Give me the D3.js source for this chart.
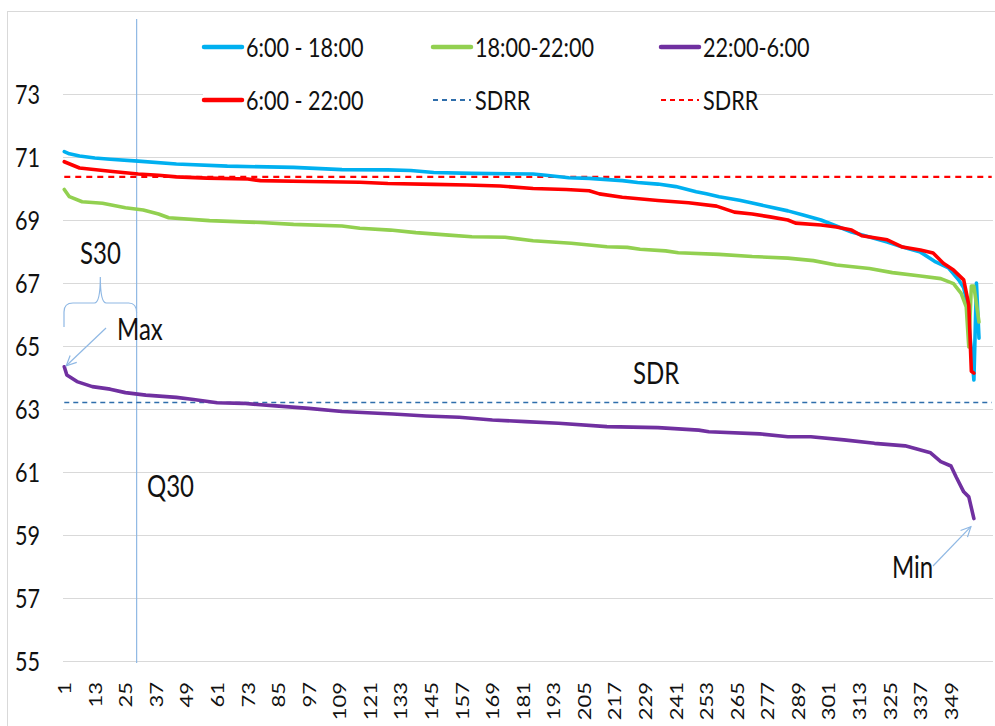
<!DOCTYPE html>
<html>
<head>
<meta charset="utf-8">
<script src="https://cdn.jsdelivr.net/npm/d3@7"></script>
<style>
  html, body { margin: 0; padding: 0; background: #fff; }
  svg { display: block; font-family: Lato, "Liberation Sans", sans-serif; }
</style>
</head>
<body>
<svg id="chart" width="995" height="726"></svg>
<script>
// Sorted daily values (duration curves), [day rank, value]
const dayPeriod = [
  [1,71.17],[3,71.10],[7,71.03],[13,70.97],[19,70.93],[30,70.87],[45,70.78],[65,70.71],
  [91,70.67],[110,70.60],[128,70.59],[137,70.57],[146,70.51],[161,70.48],[185,70.46],
  [190,70.42],[199,70.34],[207,70.32],[220,70.25],[226,70.19],[234,70.14],[241,70.06],
  [249,69.90],[253,69.83],[258,69.74],[266,69.63],[271,69.54],[278,69.41],[285,69.29],
  [291,69.16],[298,69.00],[304,68.81],[310,68.62],[317,68.46],[324,68.30],[330,68.14],
  [337,67.98],[343,67.67],[348,67.48],[352,67.10],[354,66.85],[355,66.50],[357,64.90],
  [358,63.92],[359,67.00],[360,65.25]
];
const eveningPeriod = [
  [1,69.97],[3,69.74],[8,69.58],[16,69.53],[25,69.39],[32,69.32],[38,69.19],[42,69.07],
  [58,68.98],[78,68.92],[91,68.86],[110,68.81],[117,68.74],[129,68.68],[139,68.60],
  [152,68.52],[161,68.47],[174,68.45],[185,68.34],[200,68.26],[214,68.15],[222,68.13],
  [227,68.07],[237,68.02],[242,67.96],[258,67.91],[271,67.84],[285,67.79],[295,67.71],
  [304,67.57],[317,67.46],[326,67.33],[337,67.22],[345,67.14],[350,66.98],[353,66.67],
  [355,66.24],[356,64.97],[357,66.90],[358,66.90],[360,65.76]
];
const nightPeriod = [
  [1,64.34],[2,64.08],[6,63.87],[12,63.71],[19,63.63],[25,63.52],[33,63.44],[45,63.37],
  [51,63.31],[61,63.20],[71,63.18],[84,63.10],[97,63.02],[110,62.92],[130,62.84],
  [143,62.78],[156,62.74],[169,62.65],[182,62.60],[195,62.55],[214,62.44],[234,62.41],
  [250,62.33],[254,62.28],[274,62.21],[285,62.12],[294,62.12],[307,62.02],[319,61.91],
  [331,61.83],[341,61.61],[345,61.33],[349,61.19],[351,60.85],[354,60.37],[356,60.21],
  [358,59.52]
];
const dayEveningPeriod = [
  [1,70.85],[7,70.65],[19,70.55],[30,70.46],[38,70.42],[45,70.37],[57,70.33],[73,70.30],
  [78,70.25],[97,70.22],[117,70.20],[128,70.16],[146,70.13],[159,70.11],[172,70.08],
  [185,70.00],[198,69.97],[207,69.93],[211,69.83],[220,69.72],[234,69.62],[246,69.55],
  [257,69.44],[264,69.25],[271,69.19],[278,69.10],[285,69.00],[288,68.90],[298,68.84],
  [304,68.78],[310,68.68],[314,68.50],[324,68.37],[330,68.14],[337,68.05],[342,67.95],
  [346,67.63],[350,67.41],[354,67.10],[355,66.70],[356,66.30],[357,64.20],[358,64.14]
];
// Reference levels
const sdrrNight = 63.21;
const sdrrDay = 70.37;
const dayCount = 365;
const q30Day = 29.4;

const seriesNames = ["6:00 - 18:00", "18:00-22:00", "22:00-6:00", "6:00 - 22:00", "SDRR", "SDRR"];
const xTicks = [1,13,25,37,49,61,73,85,97,109,121,133,145,157,169,181,193,205,217,229,241,253,265,277,289,301,313,325,337,349];
const yTicks = [55,57,59,61,63,65,67,69,71,73];

const svg = d3.select("#chart");
const plot = { left: 63, right: 993, top: 31, bottom: 661 };
const kx = 0.8; // horizontal squeeze applied to all text

const x = d3.scaleLinear().domain([0.5, dayCount + 0.5]).range([plot.left, plot.right]);
const y = d3.scaleLinear().domain([55, 75]).range([plot.bottom, plot.top]);

// outer frame
svg.append("rect").attr("x", 7.5).attr("y", 11.5).attr("width", 1000).attr("height", 1000)
  .attr("fill", "none").attr("stroke", "#d9d9d9");

// horizontal gridlines
const grid = svg.append("g")
  .attr("transform", `translate(${plot.left},0)`)
  .call(d3.axisRight(y).tickValues(yTicks).tickSize(plot.right - plot.left).tickFormat(""));
grid.select(".domain").remove();
grid.selectAll("line").attr("stroke", "#d9d9d9").attr("stroke-width", 1);

// y tick labels
const yAxis = svg.append("g")
  .attr("transform", "translate(40,0)")
  .call(d3.axisLeft(y).tickValues(yTicks).tickSize(0).tickPadding(0));
yAxis.select(".domain").remove();
yAxis.selectAll("text")
  .attr("x", 0).attr("dy", "0.36em")
  .attr("transform", `scale(${kx},1)`)
  .attr("text-anchor", "end")
  .attr("fill", "#111")
  .style("font-size", "27px")
  .style("font-family", "Lato, 'Liberation Sans', sans-serif");

// x tick labels (rotated)
const xAxis = svg.append("g")
  .attr("transform", "translate(0,682)")
  .call(d3.axisBottom(x).tickValues(xTicks).tickSize(0).tickPadding(0));
xAxis.select(".domain").remove();
xAxis.selectAll("text")
  .attr("x", 0).attr("y", 0).attr("dy", "0.36em")
  .attr("transform", `scale(${kx},1) rotate(-90)`)
  .attr("text-anchor", "end")
  .attr("fill", "#111")
  .style("font-size", "22px")
  .style("font-family", "Lato, 'Liberation Sans', sans-serif");

// legend backdrop hides the gridline behind the second row
svg.append("rect").attr("x", 203).attr("y", 86).attr("width", 553).attr("height", 26).attr("fill", "#fff");

// Q30 marker
const annColor = "#8fb8e4";
svg.append("line")
  .attr("x1", x(q30Day)).attr("x2", x(q30Day))
  .attr("y1", 19).attr("y2", 663)
  .attr("stroke", annColor).attr("stroke-width", 1.2);

// reference levels across all days
const line = d3.line().x(d => x(d[0])).y(d => y(d[1]));
const flat = v => [[1, v], [dayCount, v]];
svg.append("path").attr("d", line(flat(sdrrNight)))
  .attr("fill", "none").attr("stroke", "#2f6eab").attr("stroke-width", 1.5)
  .attr("stroke-dasharray", "5,4");
svg.append("path").attr("d", line(flat(sdrrDay)))
  .attr("fill", "none").attr("stroke", "#ff0000").attr("stroke-width", 2.2)
  .attr("stroke-dasharray", "6,5");

// duration curves
const curves = [
  { data: dayPeriod, color: "#00b0f0" },
  { data: eveningPeriod, color: "#92d050" },
  { data: nightPeriod, color: "#7030a0" },
  { data: dayEveningPeriod, color: "#ff0000" }
];
curves.forEach(c => {
  svg.append("path").attr("d", line(c.data))
    .attr("fill", "none").attr("stroke", c.color).attr("stroke-width", 3.6)
    .attr("stroke-linejoin", "round").attr("stroke-linecap", "round");
});

// legend
const legendItems = [
  { name: seriesNames[0], color: "#00b0f0", dash: null, w: 4.5, lx: 204, ly: 47 },
  { name: seriesNames[1], color: "#92d050", dash: null, w: 4.5, lx: 433, ly: 47 },
  { name: seriesNames[2], color: "#7030a0", dash: null, w: 4.5, lx: 661, ly: 47 },
  { name: seriesNames[3], color: "#ff0000", dash: null, w: 4.5, lx: 204, ly: 100 },
  { name: seriesNames[4], color: "#2f6eab", dash: "5,4", w: 1.8, lx: 433, ly: 100 },
  { name: seriesNames[5], color: "#ff0000", dash: "5,4", w: 1.8, lx: 661, ly: 100 }
];
const leg = svg.append("g");
legendItems.forEach(it => {
  leg.append("line")
    .attr("x1", it.lx).attr("x2", it.lx + 38).attr("y1", it.ly).attr("y2", it.ly)
    .attr("stroke", it.color).attr("stroke-width", it.w)
    .attr("stroke-dasharray", it.dash)
    .attr("stroke-linecap", it.dash ? "butt" : "round");
  leg.append("text")
    .attr("transform", `translate(${it.lx + 42},${it.ly}) scale(${kx},1)`)
    .attr("dy", "0.36em")
    .attr("fill", "#111")
    .style("font-size", "27px")
    .text(it.name);
});

// annotations
const ann = svg.append("g").attr("fill", "none").attr("stroke", annColor).attr("stroke-width", 1.2);
// S30 brace spanning the first 30 days
const bx0 = x(0.5) + 1, bx1 = x(q30Day), bmid = (bx0 + bx1) / 2, by = 303;
ann.append("path").attr("d",
  `M${bx0},327 L${bx0},312 Q${bx0},${by} ${bx0 + 9},${by} L${bmid - 6},${by} Q${bmid},${by} ${bmid},277 ` +
  `Q${bmid},${by} ${bmid + 6},${by} L${bx1 - 8},${by} Q${bx1},${by} ${bx1},313`);

function arrow(x1, y1, x2, y2) {
  ann.append("line").attr("x1", x1).attr("y1", y1).attr("x2", x2).attr("y2", y2);
  const a = Math.atan2(y2 - y1, x2 - x1), L = 11, s = 0.45;
  ann.append("path").attr("d",
    `M${x2 - L * Math.cos(a - s)},${y2 - L * Math.sin(a - s)} L${x2},${y2} L${x2 - L * Math.cos(a + s)},${y2 - L * Math.sin(a + s)}`);
}
// Max points to the first night value, Min to the last
const nFirst = nightPeriod[0], nLast = nightPeriod[nightPeriod.length - 1];
arrow(106, 328, x(nFirst[0]) + 2, y(nFirst[1]) - 1);
arrow(933, 566, x(nLast[0]) - 3, y(nLast[1]) + 8);

const labels = [
  { t: "S30", x: 80, y: 264 },
  { t: "Max", x: 117, y: 340 },
  { t: "Q30", x: 147, y: 497 },
  { t: "SDR", x: 633, y: 384 },
  { t: "Min", x: 892, y: 578 }
];
labels.forEach(l => {
  svg.append("text")
    .attr("transform", `translate(${l.x},${l.y}) scale(${kx},1)`)
    .attr("fill", "#111")
    .style("font-size", "30px")
    .text(l.t);
});
</script>
</body>
</html>
